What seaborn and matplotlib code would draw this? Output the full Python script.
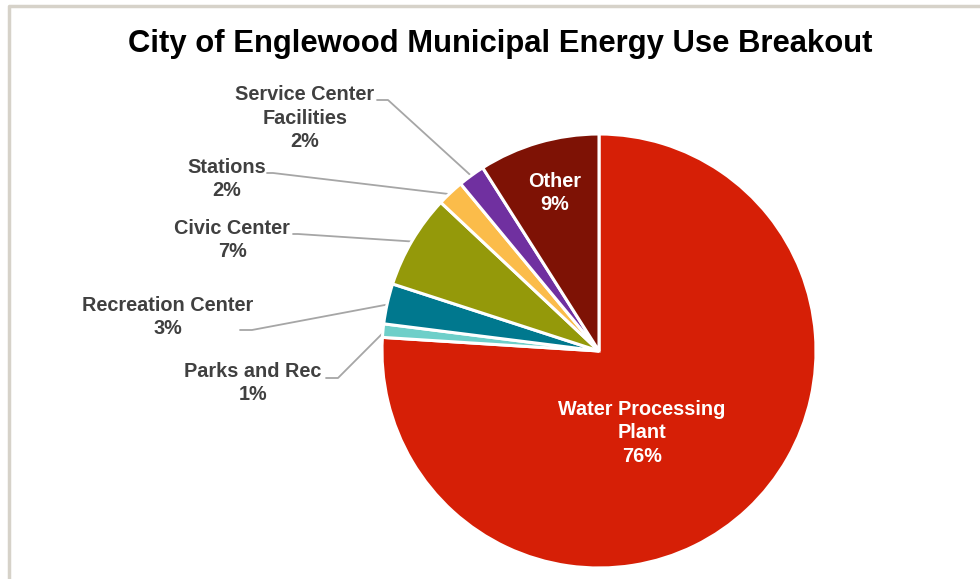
import numpy as np
import matplotlib.pyplot as plt
import seaborn as sns

# slices, clockwise from 12 o'clock
categories = ['Water Processing\nPlant', 'Parks and Rec', 'Recreation Center',
              'Civic Center', 'Stations', 'Service Center\nFacilities', 'Other']
shares = [76, 1, 3, 7, 2, 2, 9]
colors = ['#D61F06', '#6ECFC9', '#00788E', '#94990A', '#FBBC4A', '#7030A0', '#7E1205']

sns.set_style('white')
plt.rcParams['font.family'] = ['Liberation Sans', 'DejaVu Sans']

W, H = 980, 579
fig = plt.figure(figsize=(W / 100, H / 100), dpi=100)
ax = fig.add_axes([0, 0, 1, 1])

# pixel-based layout (y measured from top of picture)
cx, cy, r = 599, 351, 217


def P(y):
    return H - y


wedges, _ = ax.pie(shares, colors=colors, startangle=90, counterclock=False,
                   center=(cx, P(cy)), radius=r, normalize=True,
                   wedgeprops=dict(edgecolor='white', linewidth=2.2))
ax.set_xlim(0, W)
ax.set_ylim(0, H)
ax.set_aspect('equal')
ax.axis('off')

# frame around the chart area
ax.plot([9, 9, W + 5], [-5, P(6), P(6)], color='#D6D2C9', lw=2.5, solid_capstyle='butt')

ax.text(500, P(44), 'City of Englewood Municipal Energy Use Breakout', ha='center', va='center',
        fontsize=22.3, fontweight='bold', color='black')

txt = '#404040'
line = '#A6A6A6'
fs = 14.3
ls = 1.3

# outside labels: (text centre, leader start, elbow)
outside = {
    1: ((253, 383), (326, 378), (338, 378)),
    2: ((168, 317), (240, 330), (252, 330)),
    3: ((232, 240), (293, 234), (298, 234)),
    4: ((227, 179), (267, 173), (273, 173)),
    5: ((305, 118), (377, 100), (388, 100)),
}

total = sum(shares)
start = 90.0
mids = []
for s in shares:
    sweep = 360.0 * s / total
    mids.append(start - sweep / 2)
    start -= sweep

for i, (tpos, p0, p1) in outside.items():
    name = categories[i]
    ax.text(tpos[0], P(tpos[1]), f'{name}\n{shares[i]}%', ha='center', va='center',
            fontsize=fs, fontweight='bold', color=txt, linespacing=ls)
    a = np.deg2rad(mids[i])
    ex = cx + 0.99 * r * np.cos(a)
    ey = P(cy) + 0.99 * r * np.sin(a)
    ax.plot([p0[0], p1[0], ex], [P(p0[1]), P(p1[1]), ey], color=line, lw=1.3, zorder=0.5)

ax.text(555, P(193), f'Other\n{shares[6]}%', ha='center', va='center',
        fontsize=fs, fontweight='bold', color='white', linespacing=ls)
ax.text(642, P(433), f'{categories[0]}\n{shares[0]}%', ha='center', va='center',
        fontsize=fs, fontweight='bold', color='white', linespacing=ls)

fig.savefig('out.png', dpi=100)
